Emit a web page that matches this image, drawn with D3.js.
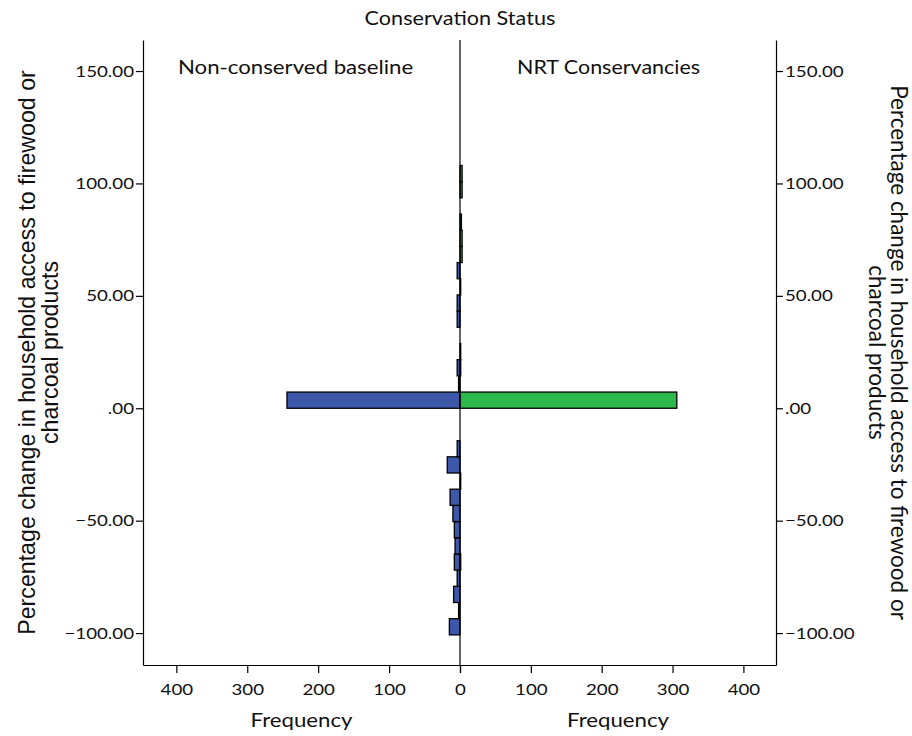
<!DOCTYPE html>
<html>
<head>
<meta charset="utf-8">
<script src="https://cdn.jsdelivr.net/npm/d3@7"></script>
<style>
  body { margin: 0; background: #fff; }
  .tick text { font-family: Lato, "Open Sans", sans-serif; font-size: 16px; fill: #111; }
  .lbl { font-family: Lato, "Open Sans", sans-serif; fill: #111; }
</style>
</head>
<body>
<div id="chart"></div>
<script>
// ==== DATA ====
const BIN_WIDTH = 7.2;
const BIN_START = [-100.8, -93.6, -86.4, -79.2, -72.0, -64.8, -57.6, -50.4, -43.2, -36.0,
                   -28.8, -21.6, -14.4, -7.2, 0, 7.2, 14.4, 21.6, 28.8, 36.0,
                   43.2, 50.4, 57.6, 64.8, 72.0, 79.2, 86.4, 93.6, 100.8];
const NON_CONSERVED = [15, 2, 9, 4, 8, 7, 8, 10, 14, 0,
                       18, 4, 0, 0, 244, 2, 4, 0, 0, 4,
                       4, 0, 4, 0, 0, 0, 0, 0, 0];
const NRT = [0, 0, 0, 0, 1, 0, 0, 0, 0, 1,
             0, 0, 0, 0, 306, 0, 1, 1, 0, 0,
             0, 1, 0, 3, 3, 2, 0, 3, 3];
const Y_TICKS = [-100, -50, 0, 50, 100, 150];
const X_TICKS = [0, 100, 200, 300, 400];
const PANELS = ["Non-conserved baseline", "NRT Conservancies"];

// ==== SIZE ====
const W = 912, H = 736;
const plotTop = 40, plotBottom = 665, plotLeft = 143, plotMid = 460, plotRight = 776;
const SX = 1.17; // the source text is a bit wider than our fonts

const svg = d3.select("#chart").append("svg")
  .attr("width", W).attr("height", H);

// ==== SCALES ====
const y = d3.scaleLinear().domain([-114.2, 163.8]).range([plotBottom, plotTop]);
const xL = d3.scaleLinear().domain([0, 447]).range([plotMid, plotLeft]);
const xR = d3.scaleLinear().domain([0, 446]).range([plotMid, plotRight]);

const fmt = v => d3.format(".2f")(v).replace(/^(−?)0\./, "$1.");

// ==== BARS ====
const bins = BIN_START.map((b, i) => ({ b, nc: NON_CONSERVED[i], nrt: NRT[i] }));

svg.append("g").selectAll("rect")
  .data(bins.filter(d => d.nc > 0))
  .join("rect")
  .attr("x", d => xL(d.nc))
  .attr("y", d => y(d.b + BIN_WIDTH))
  .attr("width", d => plotMid - xL(d.nc))
  .attr("height", d => y(d.b) - y(d.b + BIN_WIDTH))
  .attr("fill", "#3d57a9")
  .attr("stroke", "#000")
  .attr("stroke-width", 1.3);

svg.append("g").selectAll("rect")
  .data(bins.filter(d => d.nrt > 0))
  .join("rect")
  .attr("x", plotMid)
  .attr("y", d => y(d.b + BIN_WIDTH))
  .attr("width", d => xR(d.nrt) - plotMid)
  .attr("height", d => y(d.b) - y(d.b + BIN_WIDTH))
  .attr("fill", "#2db84b")
  .attr("stroke", "#000")
  .attr("stroke-width", 1.3);

// ==== FRAME ====
svg.append("line").attr("x1", plotMid).attr("x2", plotMid).attr("y1", plotTop).attr("y2", plotBottom)
  .attr("stroke", "#000").attr("stroke-width", 1.2);

// ==== AXES ====
const gyL = svg.append("g").attr("transform", `translate(${plotLeft},0)`)
  .call(d3.axisLeft(y).tickValues(Y_TICKS).tickFormat(fmt).tickSize(7).tickSizeOuter(0));
const gyR = svg.append("g").attr("transform", `translate(${plotRight},0)`)
  .call(d3.axisRight(y).tickValues(Y_TICKS).tickFormat(fmt).tickSize(7).tickSizeOuter(0));
const gxL = svg.append("g").attr("transform", `translate(0,${plotBottom})`)
  .call(d3.axisBottom(xL).tickValues(X_TICKS).tickSize(8).tickSizeOuter(0).tickPadding(11));
const gxR = svg.append("g").attr("transform", `translate(0,${plotBottom})`)
  .call(d3.axisBottom(xR).tickValues(X_TICKS).tickSize(8).tickSizeOuter(0).tickPadding(11));

[gyL, gyR, gxL, gxR].forEach(g => {
  g.select(".domain").attr("stroke", "#000").attr("stroke-width", 1.2);
  g.selectAll(".tick line").attr("stroke", "#000").attr("stroke-width", 1.2);
});
gyL.selectAll(".tick text").attr("x", 0).attr("transform", `translate(-9,0) scale(${SX},1)`);
gyR.selectAll(".tick text").attr("x", 0).attr("transform", `translate(9,0) scale(${SX},1)`);
[gxL, gxR].forEach(g => g.selectAll(".tick text").attr("transform", `scale(${SX},1)`));
// the "0" on the right panel overlaps the left one
gxR.selectAll(".tick").filter(d => d === 0).select("text").remove();

// ==== TEXT ====
function label(x, yy, size, txt, anchor, sx) {
  return svg.append("text").attr("class", "lbl")
    .attr("transform", `translate(${x},${yy}) scale(${sx || SX},1)`)
    .attr("text-anchor", anchor || "start")
    .style("font-size", size + "px")
    .text(txt);
}
label(plotMid, 25, 18.5, "Conservation Status", "middle");
label(178, 74, 19, PANELS[0]);
label(517, 74, 19, PANELS[1], "start", 1.13);
label((plotLeft + plotMid) / 2, 727, 19, "Frequency", "middle");
label((plotMid + plotRight) / 2, 727, 19, "Frequency", "middle");

// left y title (Arial-like)
const yl = svg.append("text")
  .attr("transform", `translate(35,${(plotTop + plotBottom) / 2}) rotate(-90)`)
  .attr("text-anchor", "middle")
  .style("font-family", "'Liberation Sans', Arial, sans-serif")
  .style("font-size", "23.2px").attr("fill", "#111");
yl.append("tspan").attr("x", 0).attr("y", 0).text("Percentage change in household access to firewood or");
yl.append("tspan").attr("x", 0).attr("y", 23).text("charcoal products");

// right y title
const yr = svg.append("text")
  .attr("transform", `translate(891,${(plotTop + plotBottom) / 2}) rotate(90)`)
  .attr("text-anchor", "middle")
  .style("font-family", "Lato, 'Open Sans', sans-serif")
  .style("font-size", "22.5px").attr("fill", "#111");
yr.append("tspan").attr("x", 0).attr("y", 0).text("Percentage change in household access to firewood or");
yr.append("tspan").attr("x", 0).attr("y", 22).text("charcoal products");
</script>
</body>
</html>
